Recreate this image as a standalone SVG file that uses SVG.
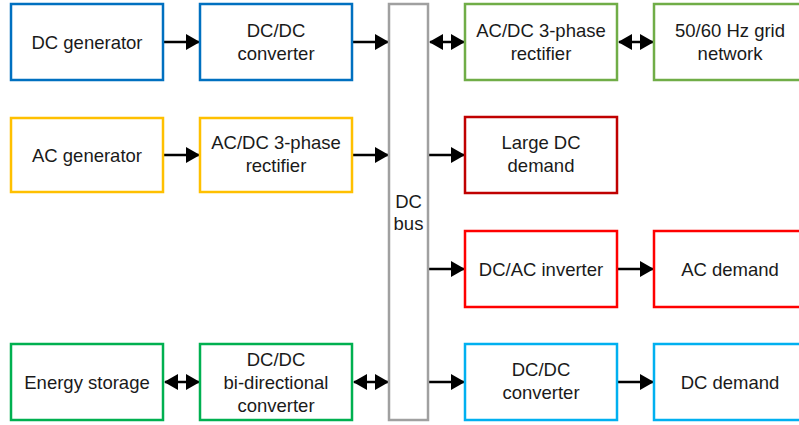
<svg xmlns="http://www.w3.org/2000/svg" width="799" height="425" viewBox="0 0 799 425">
<defs>
<marker id="ah" viewBox="0 0 14 16" refX="13" refY="8" markerWidth="14" markerHeight="16" markerUnits="userSpaceOnUse" orient="auto-start-reverse">
<path d="M0,0 L14,8 L0,16 Z" fill="#000"/>
</marker>
<style>
rect{fill:#fff;stroke-width:2.5}
text{font-family:"Liberation Sans",Arial,sans-serif;font-size:18.5px;fill:#1a1a1a;text-anchor:middle}
.blue{stroke:#0070C0}
.lgreen{stroke:#70AD47}
.green{stroke:#00B050}
.yellow{stroke:#FFC000}
.dred{stroke:#C00000}
.red{stroke:#FF0000}
.lblue{stroke:#00B0F0}
.bus{stroke:#A0A0A0}
.c line{stroke:#000;stroke-width:2.5;fill:none}
</style>
</defs>
<rect width="799" height="425" fill="#fff" style="stroke:none"/>

<g class="c" id="connectors">
<line x1="164" y1="42" x2="199" y2="42" marker-end="url(#ah)"/>
<line x1="353" y1="42" x2="388" y2="42" marker-end="url(#ah)"/>
<line x1="430" y1="42" x2="464" y2="42" marker-start="url(#ah)" marker-end="url(#ah)"/>
<line x1="619" y1="42" x2="653" y2="42" marker-start="url(#ah)" marker-end="url(#ah)"/>
<line x1="164" y1="155" x2="199" y2="155" marker-end="url(#ah)"/>
<line x1="353" y1="155" x2="388" y2="155" marker-end="url(#ah)"/>
<line x1="429" y1="155" x2="464" y2="155" marker-end="url(#ah)"/>
<line x1="429" y1="269" x2="464" y2="269" marker-end="url(#ah)"/>
<line x1="618" y1="269" x2="653" y2="269" marker-end="url(#ah)"/>
<line x1="429" y1="382" x2="464" y2="382" marker-end="url(#ah)"/>
<line x1="618" y1="382" x2="653" y2="382" marker-end="url(#ah)"/>
<line x1="165" y1="382" x2="199" y2="382" marker-start="url(#ah)" marker-end="url(#ah)"/>
<line x1="354" y1="382" x2="388" y2="382" marker-start="url(#ah)" marker-end="url(#ah)"/>
</g>

<g id="dc-bus"><rect class="bus" x="389" y="4" width="39" height="416"/><text x="408.5" y="208">DC</text><text x="408.5" y="230">bus</text></g>

<g id="dc-generator"><rect class="blue" x="11" y="4" width="152" height="76"/><text x="87" y="49">DC generator</text></g>
<g id="dcdc-converter-1"><rect class="blue" x="200" y="4" width="152" height="76"/><text x="276" y="37">DC/DC</text><text x="276" y="60">converter</text></g>

<g id="acdc-rectifier-grid"><rect class="lgreen" x="465" y="4" width="152" height="76"/><text x="541" y="37">AC/DC 3-phase</text><text x="541" y="60">rectifier</text></g>
<g id="grid-network"><rect class="lgreen" x="654" y="4" width="152" height="76"/><text x="730" y="37">50/60 Hz grid</text><text x="730" y="60">network</text></g>

<g id="ac-generator"><rect class="yellow" x="11" y="118" width="152" height="74"/><text x="87" y="162">AC generator</text></g>
<g id="acdc-rectifier"><rect class="yellow" x="200" y="118" width="152" height="74"/><text x="276" y="149">AC/DC 3-phase</text><text x="276" y="172">rectifier</text></g>

<g id="large-dc-demand"><rect class="dred" x="465" y="117" width="152" height="76"/><text x="541" y="149">Large DC</text><text x="541" y="172">demand</text></g>

<g id="dcac-inverter"><rect class="red" x="465" y="231" width="152" height="76"/><text x="541" y="276">DC/AC inverter</text></g>
<g id="ac-demand"><rect class="red" x="654" y="231" width="152" height="76"/><text x="730" y="276">AC demand</text></g>

<g id="energy-storage"><rect class="green" x="11" y="344" width="152" height="76"/><text x="87" y="389">Energy storage</text></g>
<g id="dcdc-bidirectional"><rect class="green" x="200" y="344" width="152" height="76"/><text x="276" y="366">DC/DC</text><text x="276" y="389">bi-directional</text><text x="276" y="412">converter</text></g>

<g id="dcdc-converter-2"><rect class="lblue" x="465" y="344" width="152" height="76"/><text x="541" y="376">DC/DC</text><text x="541" y="399">converter</text></g>
<g id="dc-demand"><rect class="lblue" x="654" y="344" width="152" height="76"/><text x="730" y="389">DC demand</text></g>
</svg>
